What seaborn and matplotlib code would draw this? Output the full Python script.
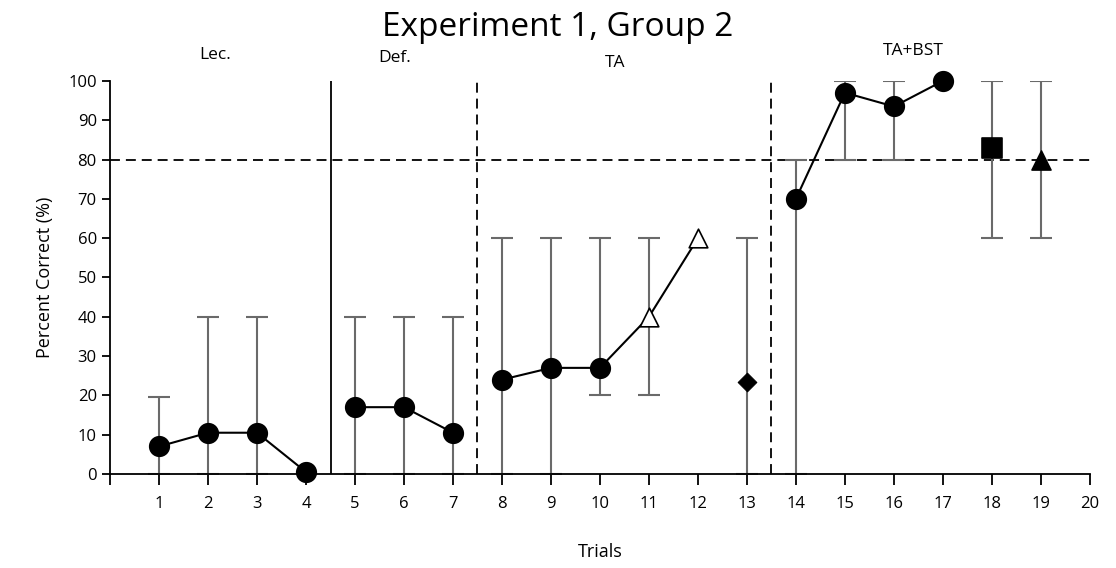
import numpy as np
import pandas as pd
import matplotlib.pyplot as plt
import seaborn as sns

# valores
trials = [1, 2, 3, 4, 5, 6, 7, 8, 9, 10, 11, 12, 13, 14, 15, 16, 17, 18, 19]
percent = [7, 10.5, 10.5, 0.5, 17, 17, 10.5, 24, 27, 27, 40, 60, 23.5, 70, 97, 93.5, 100, 83, 80]
err_low = [0, 0, 0, np.nan, 0, 0, 0, 0, 0, 20, 20, np.nan, 0, 0, 80, 80, np.nan, 60, 60]
err_high = [19.5, 40, 40, np.nan, 40, 40, 40, 60, 60, 60, 60, np.nan, 60, 80, 100, 100, np.nan, 100, 100]
segment = ['a', 'a', 'a', 'a', 'b', 'b', 'b', 'c', 'c', 'c', 'c', 'c', 'd', 'e', 'e', 'e', 'e', 'f', 'g']
marker_type = ['circle'] * 10 + ['open_tri'] * 2 + ['diamond'] + ['circle'] * 4 + ['square', 'triangle']

phase_names = ['Lec.', 'Def.', 'TA', 'TA+BST']
phase_x = [2.15, 5.8, 10.3, 16.4]
phase_y = [106.5, 105.8, 104.5, 107.5]

df = pd.DataFrame({'Trial': trials, 'Percent': percent, 'Low': err_low,
                   'High': err_high, 'Seg': segment, 'Marker': marker_type})

plt.rcParams['font.family'] = ['Open Sans', 'DejaVu Sans']
fig = plt.figure(figsize=(11.16, 5.68), dpi=100)
ax = fig.add_axes([0.0986, 0.1655, 0.878, 0.692])

# barras de erro (cinza)
eb = df.dropna(subset=['Low'])
ax.errorbar(eb['Trial'], eb['Percent'],
            yerr=[eb['Percent'] - eb['Low'], eb['High'] - eb['Percent']],
            fmt='none', ecolor='#6a6a6a', elinewidth=1.5, capsize=8, capthick=1.5, zorder=2)

# linhas ligando os pontos de cada fase
sns.lineplot(data=df, x='Trial', y='Percent', units='Seg', estimator=None,
             color='black', linewidth=1.5, ax=ax, zorder=3)

styles = {
    'circle': dict(marker='o', s=200, color='black', edgecolor='black'),
    'open_tri': dict(marker='^', s=180, facecolor='white', edgecolor='black', linewidth=1.2),
    'diamond': dict(marker='D', s=90, color='black', edgecolor='black'),
    'square': dict(marker='s', s=220, color='black', edgecolor='black'),
    'triangle': dict(marker='^', s=190, color='black', edgecolor='black'),
}
for key, kw in styles.items():
    sub = df[df['Marker'] == key]
    sns.scatterplot(data=sub, x='Trial', y='Percent', ax=ax, zorder=4, clip_on=False, **kw)

# linhas de referência
dash = (0, (5.5, 3.3))
ax.axhline(80, color='black', linestyle=dash, linewidth=1.3, zorder=1)
ax.axvline(4.5, color='black', linewidth=1.3, zorder=1)
ax.axvline(7.5, color='black', linestyle=dash, linewidth=1.3, zorder=1)
ax.axvline(13.5, color='black', linestyle=dash, linewidth=1.3, zorder=1)

for name, x, y in zip(phase_names, phase_x, phase_y):
    ax.text(x, y, name, ha='center', va='center', fontsize=12.5, clip_on=False)

ax.set_xlim(0, 20)
ax.set_ylim(0, 100)
ax.set_xticks(range(0, 21))
ax.set_xticklabels([''] + [str(i) for i in range(1, 21)], fontsize=12)
ax.set_yticks(range(0, 101, 10))
ax.tick_params(axis='y', labelsize=12, length=6, width=1.3)
ax.tick_params(axis='x', length=8, width=1.3, pad=8)
for s in ['top', 'right']:
    ax.spines[s].set_visible(False)
for s in ['left', 'bottom']:
    ax.spines[s].set_linewidth(1.3)

ax.set_xlabel('Trials', fontsize=13, labelpad=22)
ax.set_ylabel('Percent Correct (%)', fontsize=13, labelpad=10)
fig.suptitle('Experiment 1, Group 2', fontsize=24, y=0.98)

fig.savefig('out.png', dpi=100)
